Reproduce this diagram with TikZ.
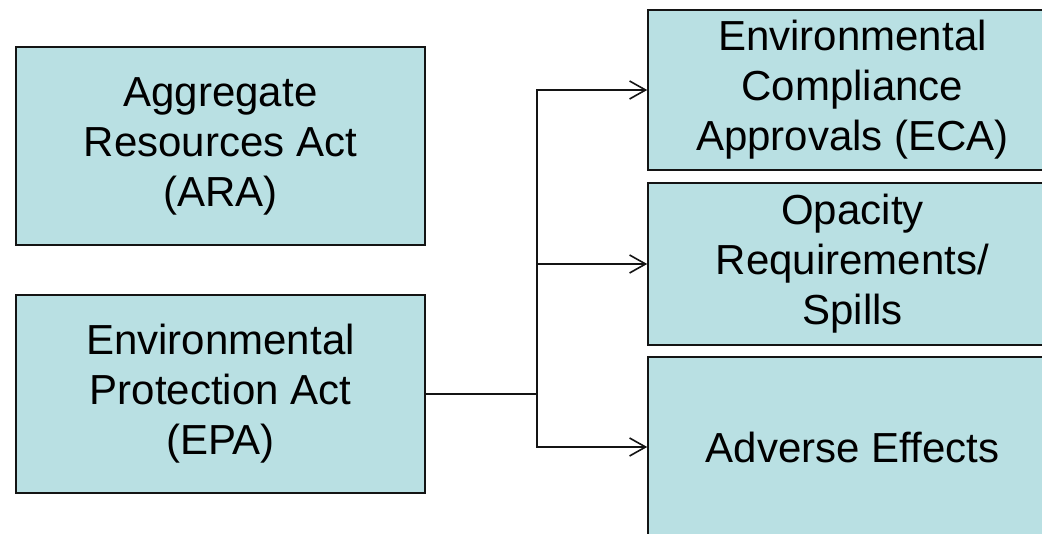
\documentclass[tikz,border=0pt]{standalone}
\usepackage{xcolor}
\usepackage{tikz}
\usepackage{fontspec}
\setmainfont{Liberation Sans}
\definecolor{boxblue}{RGB}{185, 224, 227}
\definecolor{boxline}{RGB}{20, 20, 20}
\usetikzlibrary{arrows.meta, positioning, calc}

\begin{document}
\begin{tikzpicture}[
    x=1pt, y=-1pt,
    act/.style={rectangle, draw=boxline, fill=boxblue, line width=1.6pt, minimum width=409pt, minimum height=198pt, inner sep=0pt, align=center, font=\fontsize{42}{50}\selectfont},
    topic/.style={act, minimum height=160pt},
    link/.style={line width=1.6pt, draw=boxline},
    arr/.style={link, -{Straight Barb[length=16pt, width=18pt, line width=1.6pt]}}
]
    \clip (0,0) rectangle (1042,534);
    \fill[white] (0,0) rectangle (1042,534);

    % Acts
    \node[act] (ara) at (220.5, 146) {Aggregate\\Resources Act\\(ARA)};
    \node[act] (epa) at (220.5, 394) {Environmental\\Protection Act\\(EPA)};

    % Topics under the EPA
    \node[topic] (eca) at (852.5, 90) {Environmental\\Compliance\\Approvals (ECA)};
    \node[topic, minimum height=162pt] (opa) at (852.5, 264) {Opacity\\Requirements/\\Spills};
    \node[topic, minimum height=180pt] (adv) at (852.5, 447) {Adverse Effects};

    % Connectors
    \coordinate (split) at (537, 394);
    \draw[link] (epa.east) -- (split);
    \draw[arr] (split) |- (eca.west);
    \draw[arr] (split) |- (opa.west);
    \draw[arr] (split) |- (adv.west);

\end{tikzpicture}
\end{document}
